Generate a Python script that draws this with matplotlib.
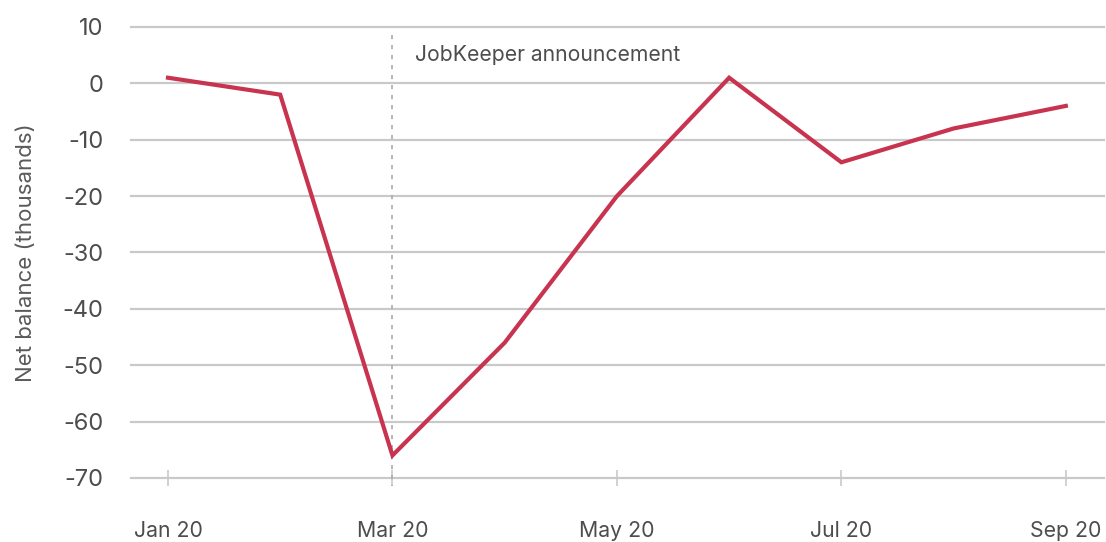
import matplotlib
matplotlib.use("Agg")
import matplotlib.pyplot as plt

# Monthly net balance, thousands
months = ["Jan 20", "Feb 20", "Mar 20", "Apr 20", "May 20", "Jun 20", "Jul 20", "Aug 20", "Sep 20"]
net_balance = [1, -2, -66, -46, -20, 1, -14, -8, -4]
tick_months = ["Jan 20", "Mar 20", "May 20", "Jul 20", "Sep 20"]
y_ticks = [10, 0, -10, -20, -30, -40, -50, -60, -70]
event_month = "Mar 20"
event_label = "JobKeeper announcement"

plt.rcParams["font.family"] = ["Inter", "DejaVu Sans"]
text_color = "#4d4d4d"
grid_color = "#c9c9c9"
line_color = "#c8334f"

fig = plt.figure(figsize=(11.06, 5.42), dpi=100)
ax = fig.add_axes([0.1184, 0.1181, 0.8798, 0.8321])

x = list(range(len(months)))
ax.plot(x, net_balance, color=line_color, lw=3.0, solid_joinstyle="miter", zorder=3)

ax.set_ylim(-70, 10)
ax.set_xlim(-0.33, len(months) - 1 + 0.34)
ax.set_yticks(y_ticks)
ax.set_yticklabels([str(v) for v in y_ticks])
ax.set_xticks([months.index(m) for m in tick_months])
ax.set_xticklabels(tick_months)

for v in y_ticks:
    ax.axhline(v, color=grid_color, lw=1.6, zorder=1, clip_on=False)

for s in ["top", "right", "left", "bottom"]:
    ax.spines[s].set_visible(False)

ax.tick_params(axis="y", length=0, pad=20, labelsize=17, labelcolor=text_color)
ax.tick_params(axis="x", direction="inout", length=11.5, width=1.2, color=grid_color,
               pad=25, labelsize=15.3, labelcolor=text_color)

ex = months.index(event_month)
ax.plot([ex, ex], [8.5, -71.5], color="#aaaaaa", lw=1.2, ls=(0, (2.5, 3.5)), zorder=2, clip_on=False)
ax.text(ex + 0.2, 5, event_label, fontsize=15.2, color=text_color, va="center", ha="left")

ax.set_ylabel("Net balance (thousands)", fontsize=16, color="#5a5a5a", labelpad=19)

fig.savefig("out.png", dpi=100)
